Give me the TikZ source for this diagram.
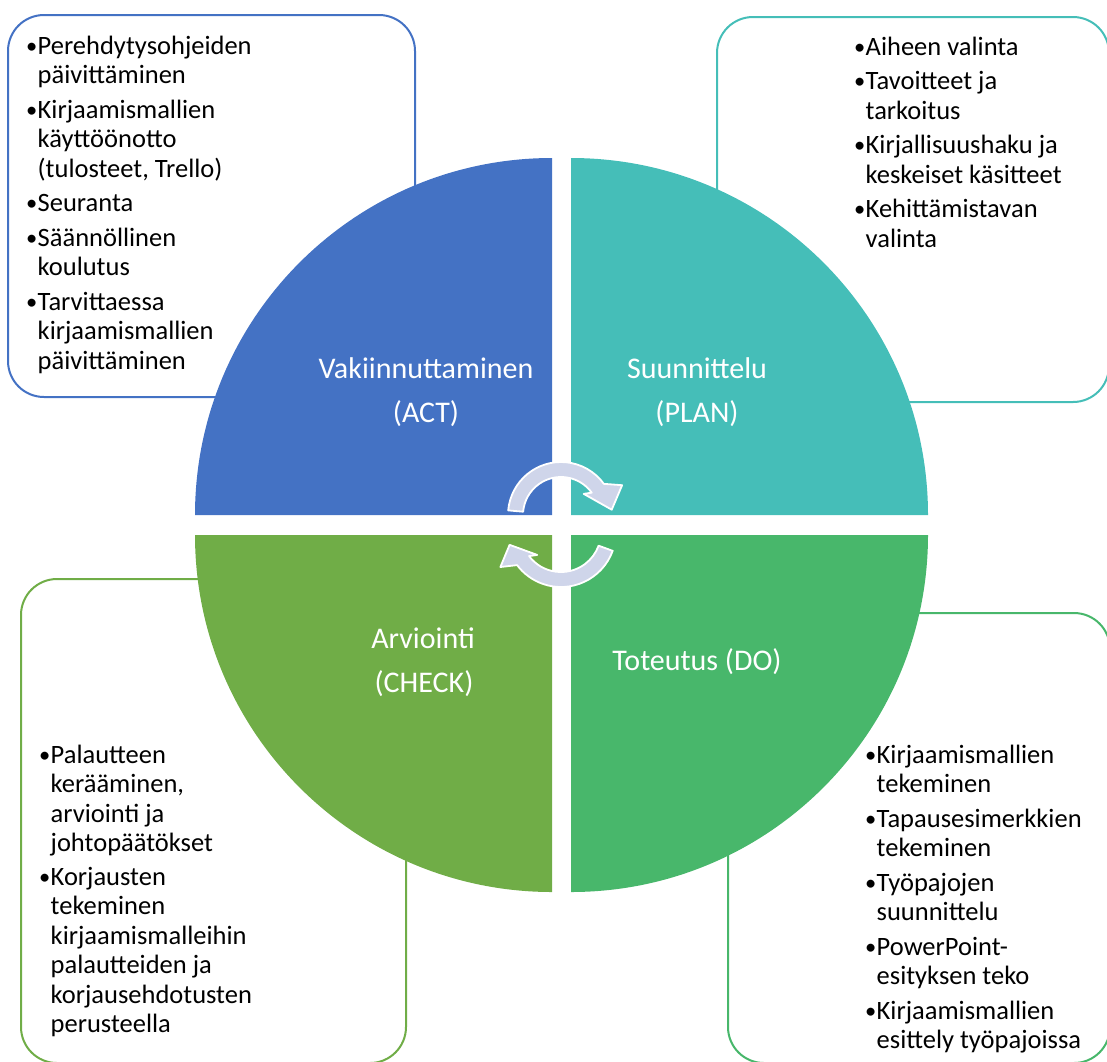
\documentclass[tikz,border=0pt]{standalone}
\usepackage{fontspec}
\setmainfont{Carlito}
\usetikzlibrary{calc}

\definecolor{actblue}{HTML}{4472C4}
\definecolor{planteal}{HTML}{45BEB8}
\definecolor{checkgreen}{HTML}{70AD47}
\definecolor{dogreen}{HTML}{48B76B}
\definecolor{cyclefill}{HTML}{CFD5EA}

% bullet and hanging indent for the lists
\newcommand{\bl}{\makebox[11.5pt][l]{\raisebox{1pt}{\scalebox{0.85}{•}}}}
\newcommand{\hng}{\hspace*{11.5pt}}

\begin{document}
\begin{tikzpicture}[x=1pt,y=1pt,
	box/.style={draw=#1, line width=2pt, rounded corners=36pt},
	quarter/.style={fill=#1},
	items/.style={anchor=base west, inner sep=0pt, font=\fontsize{26.5}{29.5}\selectfont},
	phase/.style={anchor=base, inner sep=0pt, text=white, font=\fontsize{30}{36}\selectfont},
	cyclearrow/.style={fill=cyclefill, draw=white, line width=1.8pt, line join=round}]
	
	\useasboundingbox (0,0) rectangle (1107,-1061);
	
	% text boxes
	\draw[box=actblue] (8,-15) rectangle (415,-397);
	\draw[box=planteal] (717,-17) rectangle (1109,-402);
	\draw[box=checkgreen] (21,-579) rectangle (406,-1063);
	\draw[box=dogreen] (728,-613) rectangle (1110,-1063);
	
	% the four quarters
	\fill[quarter=actblue] (552,-515) -- ++(-357,0) arc[start angle=180, end angle=90, radius=357pt] -- cycle;
	\fill[quarter=planteal] (571,-515) -- ++(0,357) arc[start angle=90, end angle=0, radius=357pt] -- cycle;
	\fill[quarter=checkgreen] (552,-535) -- ++(0,-357) arc[start angle=270, end angle=180, radius=357pt] -- cycle;
	\fill[quarter=dogreen] (571,-535) -- ++(357,0) arc[start angle=0, end angle=-90, radius=357pt] -- cycle;
	
	% cycle arrows
	\coordinate (c1) at (561,-515);
	\coordinate (c2) at (561,-532);
	\filldraw[cyclearrow] ($(c1)+(175:53pt)$) arc[start angle=175, end angle=36, radius=53pt]
		-- ($(c1)+(26:68pt)$) -- ($(c1)+(6:51pt)$) -- ($(c1)+(43:31pt)$) -- ($(c1)+(36:38pt)$)
		arc[start angle=36, end angle=175, radius=38pt] -- cycle;
	\filldraw[cyclearrow] ($(c2)+(-20:55pt)$) arc[start angle=-20, end angle=-143, radius=55pt]
		-- ($(c2)+(-150:70pt)$) -- ($(c2)+(-166:53pt)$) -- ($(c2)+(-136:33pt)$) -- ($(c2)+(-143:40pt)$)
		arc[start angle=-143, end angle=-20, radius=40pt] -- cycle;
	
	% phase names
	\node[phase] (act) at (426,-378) {Vakiinnuttaminen};
	\node[phase] (act2) at (426,-422) {(ACT)};
	\node[phase] (plan) at (697,-378) {Suunnittelu};
	\node[phase] (plan2) at (697,-422) {(PLAN)};
	\node[phase] (check) at (423,-648) {Arviointi};
	\node[phase] (check2) at (424,-692) {(CHECK)};
	\node[phase] (do) at (697,-670) {Toteutus (DO)};
	
	% lists
	\node[items] (actlist) at (26,-54) {\begin{tabular}[t]{@{}l@{}}
		\bl Perehdytysohjeiden\\ \hng päivittäminen\\[5pt]
		\bl Kirjaamismallien\\ \hng käyttöönotto\\ \hng (tulosteet, Trello)\\[5pt]
		\bl Seuranta\\[5pt]
		\bl Säännöllinen\\ \hng koulutus\\[5pt]
		\bl Tarvittaessa\\ \hng kirjaamismallien\\ \hng päivittäminen
	\end{tabular}};
	\node[items] (planlist) at (854,-55) {\begin{tabular}[t]{@{}l@{}}
		\bl Aiheen valinta\\[5pt]
		\bl Tavoitteet ja\\ \hng tarkoitus\\[5pt]
		\bl Kirjallisuushaku ja\\ \hng keskeiset käsitteet\\[5pt]
		\bl Kehittämistavan\\ \hng valinta
	\end{tabular}};
	\node[items] (checklist) at (39,-763) {\begin{tabular}[t]{@{}l@{}}
		\bl Palautteen\\ \hng kerääminen,\\ \hng arviointi ja\\ \hng johtopäätökset\\[4pt]
		\bl Korjausten\\ \hng tekeminen\\ \hng kirjaamismalleihin\\ \hng palautteiden ja\\ \hng korjausehdotusten\\ \hng perusteella
	\end{tabular}};
	\node[items] (dolist) at (865,-763) {\begin{tabular}[t]{@{}l@{}}
		\bl Kirjaamismallien\\ \hng tekeminen\\[5pt]
		\bl Tapausesimerkkien\\ \hng tekeminen\\[5pt]
		\bl Työpajojen\\ \hng suunnittelu\\[5pt]
		\bl PowerPoint-\\ \hng esityksen teko\\[5pt]
		\bl Kirjaamismallien\\ \hng esittely työpajoissa
	\end{tabular}};
	
\end{tikzpicture}
\end{document}
